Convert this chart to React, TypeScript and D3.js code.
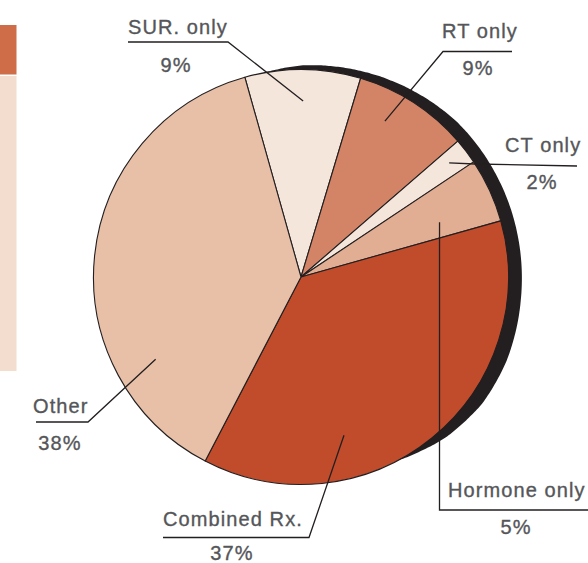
import React from "react";
import * as d3 from "d3";

const categories = ["SUR. only", "RT only", "CT only", "Hormone only", "Combined Rx.", "Other"];
const values = [9, 9, 2, 5, 37, 38];
const percentLabels = ["9%", "9%", "2%", "5%", "37%", "38%"];
const sliceColors = ["#f5e6dc", "#d38466", "#f5e6dc", "#e2ae93", "#c04c2c", "#e8c0a8"];

// rim (dark edge) thickness profile, angle in degrees -> thickness px
const rimAngles = [-12, 0, 45, 96, 112, 125, 138, 146, 153];
const rimThickness = [0, 4.5, 13, 14, 15, 14, 9, 4, 0];

// label layout
const labelLayout = [
  { nx: 128, ny: 34, px: 176, py: 72, anchorAngle: 0.7, anchorR: 176, path: [[128, 42], [228, 42]] },
  { nx: 442, ny: 37.5, px: 478, py: 75, anchorAngle: 28.3, anchorR: 177, path: [[512, 51.5], [443, 51.5]] },
  { nx: 505, ny: 152, px: 542, py: 189, anchorAngle: 52.4, anchorR: 187, path: [[577, 166], [475, 164]] },
  { nx: 448, ny: 497, px: 516, py: 534, anchorAngle: 68.4, anchorR: 149, path: [[588, 510], [439.5, 510]] },
  { nx: 163, ny: 526, px: 232, py: 559.5, anchorAngle: 164.8, anchorR: 164, path: [[163, 537.5], [309, 537.5]] },
  { nx: 33, ny: 413, px: 60, py: 450, anchorAngle: 240.5, anchorR: 167, path: [[36, 422], [88, 422]] },
];

export default function App() {
  const width = 588;
  const height = 563;
  const cx = 301;
  const cy = 277;
  const r = 207.5;
  const startDeg = -15.7;
  const toRad = (d: number) => (d * Math.PI) / 180;

  const pie = d3
    .pie<number>()
    .sort(null)
    .value((d) => d)
    .startAngle(toRad(startDeg))
    .endAngle(toRad(startDeg + 360));
  const arcs = pie(values);
  const arcGen = d3.arc<d3.PieArcDatum<number>>().innerRadius(0).outerRadius(r);

  // rim path
  const thick = d3.scaleLinear<number>().domain(rimAngles).range(rimThickness).clamp(true);
  const a0 = rimAngles[0];
  const a1 = rimAngles[rimAngles.length - 1];
  const outerPts: [number, number][] = d3.range(a0, a1 + 0.001, 1).map((deg) => {
    const rr = r - 0.5 + thick(deg);
    return [cx + rr * Math.sin(toRad(deg)), cy - rr * Math.cos(toRad(deg))];
  });
  const innerPts: [number, number][] = d3.range(a1, a0 - 0.001, -1).map((deg) => {
    const rr = r - 2;
    return [cx + rr * Math.sin(toRad(deg)), cy - rr * Math.cos(toRad(deg))];
  });
  const rimPath =
    (d3.line().curve(d3.curveCatmullRom)(outerPts) || "") +
    (d3.line()(innerPts) || "").replace(/^M/, "L") +
    "Z";

  const line = d3.line();

  const font = "'Liberation Sans', Arial, Helvetica, sans-serif";
  const textColor = "#555659";
  const dark = "#231f20";

  return (
    <svg
      width={width}
      height={height}
      style={{ position: "absolute", left: 0, top: 0 }}
      xmlns="http://www.w3.org/2000/svg"
    >
      <rect x={0} y={0} width={width} height={height} fill="#ffffff" />
      {/* left side bar */}
      <rect x={0} y={25} width={16.5} height={49.5} fill="#cf6d48" />
      <rect x={0} y={76} width={16.5} height={295} fill="#f3ddcf" />

      {/* dark rim */}
      <path d={rimPath} fill={dark} />

      <g transform={`translate(${cx},${cy})`}>
        {arcs.map((a, i) => (
          <path
            key={categories[i]}
            d={arcGen(a) || ""}
            fill={sliceColors[i]}
            stroke={dark}
            strokeWidth={1.1}
            strokeLinejoin="round"
          />
        ))}
      </g>

      {labelLayout.map((l, i) => {
        const ax = cx + l.anchorR * Math.sin(toRad(l.anchorAngle));
        const ay = cy - l.anchorR * Math.cos(toRad(l.anchorAngle));
        const pts: [number, number][] = [...(l.path as [number, number][]), [ax, ay]];
        return (
          <g key={categories[i]}>
            <path d={line(pts) || ""} fill="none" stroke={dark} strokeWidth={1.3} />
            <text
              x={l.nx}
              y={l.ny}
              fontFamily={font}
              fontSize={20}
              letterSpacing={1.1}
              fill={textColor}
              stroke={textColor}
              strokeWidth={0.35}
            >
              {categories[i]}
            </text>
            <text
              x={l.px}
              y={l.py}
              fontFamily={font}
              fontSize={20}
              letterSpacing={1.1}
              textAnchor="middle"
              fill={textColor}
              stroke={textColor}
              strokeWidth={0.35}
            >
              {percentLabels[i]}
            </text>
          </g>
        );
      })}
    </svg>
  );
}
